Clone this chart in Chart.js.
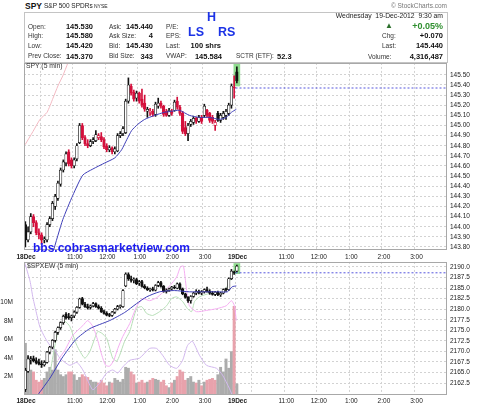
<!DOCTYPE html>
<html>
<head>
<meta charset="utf-8">
<script src="https://cdn.jsdelivr.net/npm/chart.js@4.4.0/dist/chart.umd.min.js"></script>
<style>
body{margin:0;background:#fff;font-family:Arial,"Liberation Sans",sans-serif;}
#wrap{position:relative;width:480px;height:406px;overflow:hidden;background:#fff;}
canvas{position:absolute;left:0;}
#top{top:56px;}
#bot{top:255px;}
.t{position:absolute;white-space:nowrap;line-height:1;color:#333;z-index:2;}
.l{font-size:6.5px;}
.v{font-size:7.5px;font-weight:bold;color:#111;}
.blue{font-size:12.5px;font-weight:bold;color:#1c33e6;}
#box{position:absolute;left:24px;top:12px;width:422px;height:49px;border:1px solid #c4c4c4;}
</style>
</head>
<body>
<div id="wrap">
  <div id="box"></div>
  <span class="t" style="left:25px;top:1.8px;font-size:8.5px;font-weight:bold;color:#111">SPY</span>
  <span class="t" style="left:44px;top:3.2px;font-size:6.5px;color:#222">S&amp;P 500 SPDRs</span>
  <span class="t" style="left:94px;top:4.2px;font-size:5px;color:#222">NYSE</span>
  <span class="t" style="right:33px;top:3px;font-size:6.5px;color:#777">© StockCharts.com</span>

  <span class="t l" style="left:28px;top:23.6px">Open:</span>
  <span class="t l" style="left:28px;top:32.6px">High:</span>
  <span class="t l" style="left:28px;top:42.6px">Low:</span>
  <span class="t l" style="left:28px;top:53.4px">Prev Close:</span>
  <span class="t v" style="right:387px;top:23px">145.530</span>
  <span class="t v" style="right:387px;top:32px">145.580</span>
  <span class="t v" style="right:387px;top:42px">145.420</span>
  <span class="t v" style="right:387px;top:52.8px">145.370</span>

  <span class="t l" style="left:109px;top:23.6px">Ask:</span>
  <span class="t l" style="left:109px;top:32.6px">Ask Size:</span>
  <span class="t l" style="left:109px;top:42.6px">Bid:</span>
  <span class="t l" style="left:109px;top:53.4px">Bid Size:</span>
  <span class="t v" style="right:327px;top:23px">145.440</span>
  <span class="t v" style="right:327px;top:32px">4</span>
  <span class="t v" style="right:327px;top:42px">145.430</span>
  <span class="t v" style="right:327px;top:52.8px">343</span>

  <span class="t l" style="left:166px;top:23.6px">P/E:</span>
  <span class="t l" style="left:166px;top:32.6px">EPS:</span>
  <span class="t l" style="left:166px;top:42.6px">Last:</span>
  <span class="t l" style="left:166px;top:53.4px">VWAP:</span>
  <span class="t v" style="right:259px;top:42px">100 shrs</span>
  <span class="t v" style="right:258px;top:52.8px">145.584</span>
  <span class="t l" style="left:236px;top:53.4px">SCTR (ETF):</span>
  <span class="t v" style="left:277px;top:52.8px">52.3</span>

  <span class="t blue" style="left:207px;top:11.4px">H</span>
  <span class="t blue" style="left:188px;top:25.9px">LS</span>
  <span class="t blue" style="left:218px;top:25.9px">RS</span>

  <span class="t" style="right:37px;top:13.4px;font-size:6.8px;color:#222">Wednesday&nbsp; 19-Dec-2012&nbsp; 9:30 am</span>
  <span class="t" style="left:385px;top:22px;font-size:8px;color:#2b6f2b">▲</span>
  <span class="t" style="right:37px;top:21.6px;font-size:9px;font-weight:bold;color:#2f8f2f">+0.05%</span>
  <span class="t l" style="left:382px;top:32.8px">Chg:</span>
  <span class="t v" style="right:37px;top:32.2px">+0.070</span>
  <span class="t l" style="left:382px;top:42.8px">Last:</span>
  <span class="t v" style="right:37px;top:42.2px">145.440</span>
  <span class="t l" style="left:368px;top:53.6px">Volume:</span>
  <span class="t v" style="right:37px;top:53px">4,316,487</span>

  <span class="t" style="left:26px;top:62.8px;font-size:6.8px">SPY (5 min)</span>
  <span class="t" style="left:27px;top:263px;font-size:6.8px">$SPXEW (5 min)</span>
  <span class="t blue" style="left:33px;top:241.5px;font-size:12px;color:#1c1cf0">bbs.cobrasmarketview.com</span>

  <canvas id="top" width="480" height="206"></canvas>
  <canvas id="bot" width="480" height="151"></canvas>
</div>
<script>
// x axis: 5-minute bar index, day 1 = 0..77, day 2 starts at 78
const xTickPos = [-0.5, 5.5, 17.5, 29.5, 41.5, 53.5, 65.5, 77.5, 83.5, 95.5, 107.5, 119.5, 131.5, 143.5];
const xTickLabels = ['18Dec', '', '11:00', '12:00', '1:00', '2:00', '3:00', '19Dec', '', '11:00', '12:00', '1:00', '2:00', '3:00'];

// SPY 5 min
const spyOpen = [144.02,143.87,143.95,144.10,144.04,143.94,143.92,143.87,143.87,144.02,
  144.08,144.20,144.28,144.42,144.56,144.63,144.74,144.66,144.60,144.67,
  144.83,145.00,144.88,144.82,144.80,144.84,144.85,144.88,144.89,144.86,
  144.80,144.76,144.78,144.74,144.75,144.90,144.92,144.93,145.24,145.39,
  145.33,145.27,145.32,145.26,145.22,145.14,145.13,145.14,145.11,145.19,
  145.22,145.19,145.14,145.10,145.14,145.15,145.24,145.18,145.12,144.98,
  144.92,145.01,145.03,145.07,145.04,145.08,145.10,145.15,145.12,145.08,
  145.00,145.12,145.05,145.08,145.10,145.12,145.20,145.38,145.53];
const spyHigh = [144.05,144.00,144.13,144.12,144.06,143.98,143.94,143.90,144.04,144.10,
  144.25,144.32,144.45,144.58,144.66,144.74,144.76,144.68,144.68,144.82,
  145.02,145.02,144.90,144.86,144.86,144.88,144.95,144.92,144.93,144.88,
  144.82,144.80,144.79,144.79,144.92,144.94,144.99,145.26,145.47,145.41,
  145.35,145.34,145.33,145.36,145.30,145.18,145.17,145.16,145.23,145.27,
  145.24,145.20,145.16,145.17,145.16,145.25,145.28,145.20,145.14,145.04,
  145.02,145.06,145.09,145.08,145.10,145.10,145.21,145.16,145.13,145.10,
  145.05,145.14,145.12,145.14,145.16,145.22,145.41,145.49,145.58];
const spyLow = [143.80,143.85,143.93,144.00,143.92,143.88,143.83,143.84,143.85,144.00,
  144.06,144.17,144.26,144.40,144.54,144.60,144.60,144.58,144.58,144.65,
  144.82,144.86,144.80,144.78,144.79,144.82,144.84,144.86,144.84,144.77,
  144.74,144.74,144.72,144.72,144.74,144.88,144.90,144.92,145.22,145.30,
  145.24,145.24,145.22,145.18,145.14,145.08,145.10,145.09,145.09,145.17,
  145.17,145.09,145.09,145.09,145.10,145.14,145.16,145.10,144.92,144.90,
  144.85,144.99,145.01,145.02,145.03,145.02,145.08,145.08,145.03,145.02,
  144.95,145.04,145.03,145.06,145.06,145.10,145.17,145.27,145.42];
const spyClose = [143.87,143.95,144.10,144.04,143.94,143.92,143.87,143.88,144.02,144.08,
  144.23,144.30,144.43,144.56,144.64,144.72,144.62,144.60,144.66,144.80,
  145.00,144.88,144.82,144.80,144.84,144.86,144.91,144.90,144.86,144.79,
  144.76,144.78,144.74,144.77,144.90,144.92,144.97,145.24,145.40,145.32,
  145.26,145.32,145.24,145.20,145.16,145.16,145.14,145.11,145.21,145.22,
  145.19,145.11,145.10,145.15,145.12,145.23,145.18,145.12,144.94,144.92,
  145.00,145.04,145.07,145.04,145.08,145.04,145.19,145.10,145.05,145.04,
  145.03,145.05,145.10,145.12,145.14,145.20,145.39,145.37,145.44];
const spyPrevClose = 145.37;
const spyTicks = [143.8,143.9,144.0,144.1,144.2,144.3,144.4,144.5,144.6,144.7,144.8,144.9,145.0,145.1,145.2,145.3,145.4,145.5];
const spyMaX = [10.2,13.8,17.5,21.2,24.9,29.3,33.0,35.5,37.4,39.2,41.4,44.0,47.7,51.3,53.9,56.8,60.5,64.2,67.9,71.6,74.1,76.0,77.8];
const spyMaY = [143.75,144.07,144.31,144.51,144.57,144.63,144.68,144.76,144.86,144.95,145.01,145.06,145.10,145.13,145.14,145.15,145.10,145.08,145.08,145.06,145.08,145.13,145.16];
const spyPinkX = [-0.1,2.8,5.4,8.0,10.2,12.0,13.8,15.7,16.4];
const spyPinkY = [144.81,144.94,145.06,145.13,145.27,145.39,145.49,145.62,145.69];

// $SPXEW 5 min
const ewOpen = [2161.0,2165.3,2168.0,2168.3,2167.8,2167.5,2167.0,2166.8,2167.4,2169.8,
  2171.0,2172.6,2174.5,2175.6,2176.8,2178.8,2178.2,2178.0,2178.4,2179.3,
  2180.4,2182.5,2181.2,2180.6,2180.4,2180.8,2181.3,2180.6,2180.2,2179.4,
  2179.0,2178.6,2178.5,2179.3,2180.0,2180.6,2180.6,2185.5,2188.2,2187.2,
  2186.8,2187.0,2186.2,2186.5,2185.4,2185.0,2184.6,2184.8,2184.5,2185.6,
  2186.3,2185.4,2184.2,2184.5,2184.8,2185.2,2185.0,2186.0,2184.8,2183.6,
  2182.8,2182.0,2183.0,2183.8,2184.2,2183.8,2184.1,2184.6,2184.2,2183.8,
  2183.5,2184.0,2183.4,2183.8,2184.6,2184.6,2187.2,2188.8,2189.0];
const ewHigh = [2166.0,2169.0,2168.8,2168.9,2168.5,2168.2,2167.8,2167.8,2170.0,2171.2,
  2172.8,2174.8,2175.8,2177.0,2178.6,2179.2,2179.0,2178.6,2179.6,2180.6,
  2182.6,2182.8,2181.6,2181.2,2181.0,2181.6,2181.5,2181.0,2180.6,2179.8,
  2179.4,2179.0,2179.5,2180.2,2180.9,2181.0,2184.6,2188.6,2188.6,2187.8,
  2187.4,2187.3,2186.8,2186.8,2185.8,2185.3,2185.0,2185.2,2185.8,2186.6,
  2186.6,2185.6,2184.8,2185.0,2185.4,2185.6,2186.2,2186.2,2185.0,2183.8,
  2183.0,2183.2,2184.0,2184.6,2184.5,2184.4,2184.8,2185.2,2184.6,2184.2,
  2184.2,2184.3,2184.0,2184.8,2185.0,2187.4,2189.4,2189.0,2190.4];
const ewLow = [2160.5,2165.0,2167.0,2167.5,2167.0,2166.8,2166.2,2166.5,2167.2,2169.4,
  2170.6,2172.2,2174.0,2175.2,2176.4,2177.6,2177.6,2177.2,2178.0,2179.0,
  2180.2,2181.0,2180.4,2180.0,2180.0,2180.5,2180.4,2180.0,2179.2,2178.8,
  2178.4,2178.2,2178.3,2179.0,2179.8,2180.2,2180.4,2185.3,2186.8,2186.4,
  2186.2,2185.8,2185.6,2185.2,2184.8,2184.4,2184.2,2184.3,2184.3,2185.3,
  2185.2,2184.0,2183.8,2184.2,2184.5,2184.8,2184.8,2184.6,2183.4,2182.6,
  2181.6,2181.4,2182.8,2183.4,2183.6,2183.4,2183.8,2184.0,2183.5,2183.3,
  2183.2,2183.2,2183.0,2183.6,2184.2,2184.4,2187.0,2188.2,2188.8];
const ewClose = [2165.5,2168.2,2168.3,2167.8,2167.3,2167.0,2166.8,2167.4,2169.8,2171.0,
  2172.6,2174.5,2175.6,2176.8,2178.3,2177.9,2178.0,2178.4,2179.3,2180.4,
  2182.4,2181.2,2180.6,2180.3,2180.8,2181.3,2180.6,2180.2,2179.4,2179.0,
  2178.6,2178.5,2179.3,2180.0,2180.6,2180.8,2184.4,2188.3,2187.2,2186.8,
  2187.0,2186.0,2186.5,2185.4,2185.0,2184.6,2184.8,2184.5,2185.6,2186.3,
  2185.4,2184.2,2184.5,2184.8,2185.2,2185.0,2186.0,2184.8,2183.6,2182.8,
  2182.0,2183.0,2183.8,2184.2,2183.8,2184.1,2184.6,2184.2,2183.8,2183.5,
  2184.0,2183.4,2183.8,2184.6,2184.6,2187.2,2189.0,2188.6,2190.2];
const ewPrevClose = 2188.6;
const ewTicks = [2162.5,2165.0,2167.5,2170.0,2172.5,2175.0,2177.5,2180.0,2182.5,2185.0,2187.5,2190.0];
const ewMaX = [4.6,9.1,13.5,18.6,23.8,31.1,36.6,41.0,44.7,49.5,55.0,60.5,66.0,71.6,74.5,76.3,77.8];
const ewMaY = [2159.7,2163.7,2168.4,2172.8,2175.4,2177.3,2179.2,2181.3,2182.9,2184.1,2184.4,2184.1,2184.1,2184.1,2184.1,2185.3,2185.5];
const greenX = [9.1,10.9,12.7,14.6,16.4,19.0,21.9,23.8,25.6,26.7,28.2,30.0,32.2,33.7,34.8,36.6,38.5,41.0,42.9,44.7,46.9,49.5,52.1,53.9,55.8,58.0,59.8,61.3,62.4,64.2,67.9,71.6,73.4,74.5,76.0,77.1];
const greenY = [2164.8,2171.4,2176.1,2177.1,2175.9,2171.4,2168.4,2170.0,2173.1,2174.7,2174.3,2173.1,2168.4,2167.7,2169.1,2172.4,2174.7,2180.1,2180.6,2179.0,2178.5,2179.4,2180.8,2182.5,2182.9,2181.8,2180.1,2179.4,2181.8,2182.9,2183.7,2183.7,2184.1,2185.5,2187.6,2189.1];
const magentaX = [12.0,14.6,17.5,21.2,23.0,24.9,26.7,28.2,29.6,31.1,32.6,34.1,35.9,38.5,41.0,43.3,45.8,48.4,50.6,53.2,55.8,57.2,58.3,59.4,60.5,63.1,66.8,70.5,74.1,76.0,77.1,77.8];
const magentaY = [2167.9,2170.3,2173.8,2176.1,2177.3,2175.9,2172.6,2169.1,2166.7,2166.5,2167.9,2170.7,2173.5,2176.6,2180.6,2182.5,2182.0,2182.7,2183.9,2185.5,2187.6,2190.0,2190.2,2184.8,2180.8,2179.4,2179.7,2180.1,2180.8,2182.0,2180.8,2177.3];
const lavenderX = [-0.2,1.7,2.8,4.3,5.4,7.2,9.1,10.9,12.7,14.6,16.4,19.0,21.2,23.8,24.9,27.4,30.0,32.2,34.1,35.9,38.5,42.1,45.8,48.4,50.6,53.2,55.8,58.0,59.8,61.6,64.2,66.8,70.5,72.7,75.2,76.7];
const lavenderY = [2190.9,2186.7,2182.7,2178.5,2175.7,2173.3,2171.4,2170.3,2168.4,2167.4,2166.7,2167.4,2165.6,2162.0,2160.9,2162.5,2164.9,2165.6,2164.9,2166.3,2167.9,2168.4,2170.7,2170.7,2169.1,2166.7,2166.0,2167.9,2171.4,2172.4,2169.1,2166.7,2166.0,2164.4,2161.3,2159.0];

// volume, millions
const volume = [5.6,4.1,2.7,2.5,1.6,1.4,1.6,1.8,2.5,3.0,
  2.7,4.9,2.7,2.2,2.0,2.2,2.5,2.5,2.2,1.6,
  1.9,2.2,2.0,1.9,1.6,1.4,1.4,1.3,1.6,1.3,
  1.0,1.4,1.3,1.8,1.6,1.4,1.7,3.0,2.9,2.5,
  2.2,1.3,1.4,1.6,1.3,1.4,1.6,1.8,1.7,1.6,
  1.4,1.6,1.0,0.8,1.3,1.6,2.0,2.7,2.5,1.6,
  1.8,2.0,1.4,1.3,1.6,1.0,1.4,1.6,1.7,1.8,
  1.6,2.2,3.0,2.5,3.9,2.9,4.7,9.6,1.2];
const volTicks = [2, 4, 6, 8, 10];

const FONT = 'Arial, "Liberation Sans", sans-serif';
Chart.defaults.font.family = FONT;
Chart.defaults.animation = false;
Chart.defaults.events = [];
Chart.defaults.plugins.legend.display = false;
Chart.defaults.plugins.tooltip.enabled = false;

const RED = '#d4103c', BLACK = '#111111', GRID = '#d2d2d2';
const spyColor = i => (i > 0 && spyClose[i] < spyClose[i - 1]) ? RED : BLACK;
const pts = (xs, ys) => xs.map((x, k) => ({x, y: ys[k]}));
const last = spyClose.length - 1;

const frame = {
  id: 'frame',
  afterDraw(ch) {
    const a = ch.chartArea, g = ch.ctx;
    g.save();
    g.strokeStyle = '#a8a8a8';
    g.lineWidth = 1;
    g.strokeRect(Math.round(a.left) + 0.5, Math.round(a.top) + 0.5,
      Math.round(a.right - a.left) - 1, Math.round(a.bottom - a.top) - 1);
    g.restore();
  }
};

const xAxis = (pad) => ({
  type: 'linear', min: -0.5, max: 155.5, offset: false,
  afterBuildTicks: ax => { ax.ticks = xTickPos.map(v => ({value: v})); },
  ticks: {
    autoSkip: false, maxRotation: 0, padding: pad, labelOffset: 2, color: '#222',
    font: c => ({size: 6.5, family: FONT, weight: /Dec/.test(xTickLabels[c.index]) ? 'bold' : 'normal'}),
    callback: (v, i) => xTickLabels[i]
  },
  grid: {color: GRID, drawTicks: false, offset: false},
  border: {display: false, dash: [2, 2]},
  afterFit: ax => { ax.height = pad === 3 ? 12 : 11; }
});

const priceAxis = (min, max, ticks, dec) => ({
  type: 'linear', position: 'right', min, max,
  afterBuildTicks: ax => { ax.ticks = ticks.map(v => ({value: v})); },
  ticks: {color: '#222', padding: 3, font: {size: 6.5}, callback: v => v.toFixed(dec)},
  grid: {color: GRID, drawTicks: false},
  border: {display: false, dash: [2, 2]},
  afterFit: ax => { ax.width = 33; }
});

function candles(o, h, l, c, colorOf, axis, thick) {
  const ix = c.map((_, i) => i);
  return [
    {type: 'bar', yAxisID: axis, grouped: false, order: 4, barThickness: 1,
      data: ix.map(i => ({x: i, y: [l[i], h[i]]})),
      backgroundColor: ctx => colorOf(ctx.dataIndex)},
    {type: 'bar', yAxisID: axis, grouped: false, order: 2, barThickness: thick, minBarLength: 1,
      borderSkipped: false, borderWidth: 0.7,
      data: ix.map(i => ({x: i, y: [o[i], c[i]]})),
      borderColor: ctx => colorOf(ctx.dataIndex),
      backgroundColor: ctx => c[ctx.dataIndex] > o[ctx.dataIndex] ? '#ffffff' : colorOf(ctx.dataIndex)}
  ];
}

const line = (data, color, axis, extra) => Object.assign({
  type: 'line', yAxisID: axis, data, borderColor: color, borderWidth: 1,
  pointRadius: 0, tension: 0.2, order: 1
}, extra || {});

new Chart(document.getElementById('top'), {
  type: 'bar',
  data: {datasets: [
    {type: 'bar', yAxisID: 'y', grouped: false, order: 6, barThickness: 6,
      data: [{x: last, y: [spyLow[last] - 0.03, spyHigh[last] + 0.03]}], backgroundColor: '#8fdc8f'},
    ...candles(spyOpen, spyHigh, spyLow, spyClose, spyColor, 'y', 2.6),
    line(pts(spyPinkX, spyPinkY), '#f3b9c2', 'y'),
    line(pts(spyMaX, spyMaY), '#3f3fb8', 'y'),
    line([{x: 77.5, y: spyPrevClose}, {x: 155.5, y: spyPrevClose}], '#5555dd', 'y', {borderDash: [2, 2], tension: 0})
  ]},
  options: {
    responsive: false,
    layout: {padding: {top: 6, left: 24, right: 0, bottom: 0}},
    scales: {x: xAxis(3), y: priceAxis(143.77, 145.618, spyTicks, 2)}
  },
  plugins: [frame]
});

new Chart(document.getElementById('bot'), {
  type: 'bar',
  data: {datasets: [
    {type: 'bar', yAxisID: 'vol', grouped: false, order: 9, barThickness: 2.3,
      data: volume.map((v, i) => ({x: i, y: v})),
      backgroundColor: ctx => spyColor(ctx.dataIndex) === RED ? '#e8a2ac' : '#acacac'},
    {type: 'bar', yAxisID: 'y', grouped: false, order: 6, barThickness: 6,
      data: [{x: last, y: [ewLow[last] - 0.4, ewHigh[last] + 0.4]}], backgroundColor: '#8fdc8f'},
    ...candles(ewOpen, ewHigh, ewLow, ewClose, () => BLACK, 'y', 2.6),
    line(pts(lavenderX, lavenderY), '#d2b8ee', 'y', {order: 7}),
    line(pts(magentaX, magentaY), '#f5aef2', 'y', {order: 7}),
    line(pts(greenX, greenY), '#b8dfb8', 'y', {order: 7}),
    line(pts(ewMaX, ewMaY), '#3f3fb8', 'y'),
    line([{x: 77.5, y: ewPrevClose}, {x: 155.5, y: ewPrevClose}], '#5555dd', 'y', {borderDash: [2, 2], tension: 0})
  ]},
  options: {
    responsive: false,
    layout: {padding: {top: 6, left: 0, right: 0, bottom: 0}},
    scales: {
      x: xAxis(2),
      y: priceAxis(2159.68, 2191.18, ewTicks, 1),
      vol: {
        type: 'linear', position: 'left', min: 0, max: 14.4,
        afterBuildTicks: ax => { ax.ticks = volTicks.map(v => ({value: v})); },
        ticks: {color: '#222', padding: 3, font: {size: 6.5}, callback: v => v + 'M'},
        grid: {display: false}, border: {display: false},
        afterFit: ax => { ax.width = 24; }
      }
    }
  },
  plugins: [frame]
});
</script>
</body>
</html>
